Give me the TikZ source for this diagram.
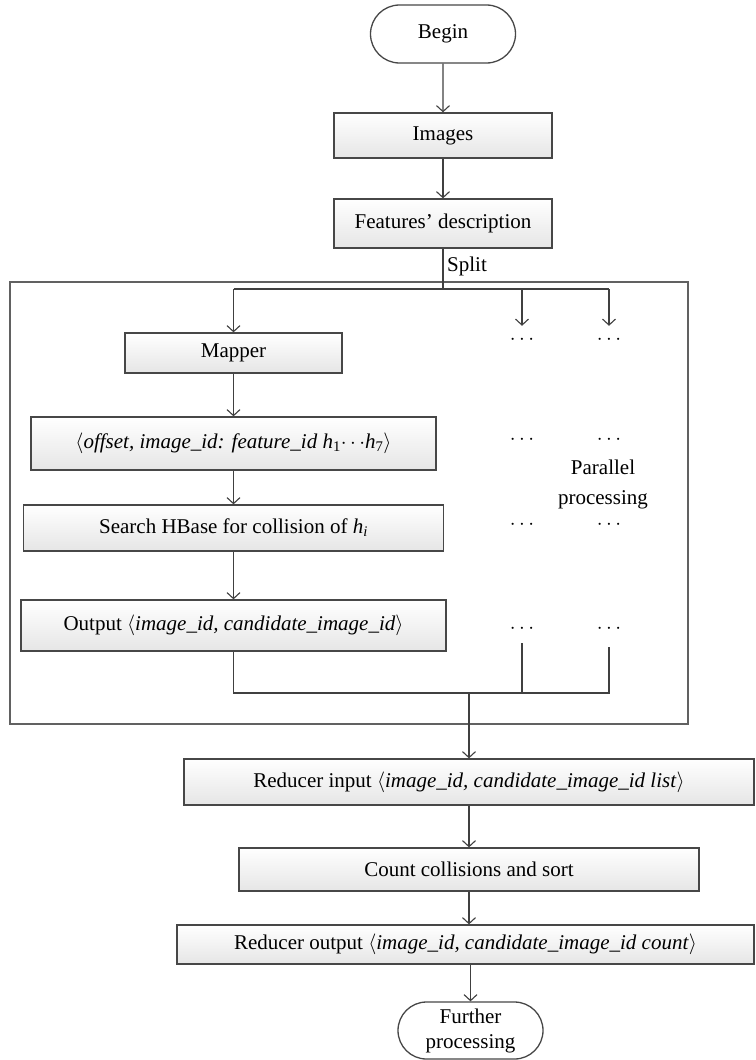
\documentclass[tikz,border=0pt]{standalone}
\usepackage{fontspec}
\setmainfont{Liberation Serif}
\usetikzlibrary{arrows.meta,shapes.misc}
\begin{document}
\begin{tikzpicture}[x=1pt,y=-1pt,
  every node/.style={font=\fontsize{21}{25}\selectfont, inner sep=0pt},
  procbox/.style={draw=black!72, line width=1.3pt, top color=white, bottom color=black!10, align=center},
  terminal/.style={rounded rectangle, draw=black!72, line width=1.3pt, fill=white, align=center},
  frame/.style={draw=black!62, line width=1.4pt},
  dotsnode/.style={minimum height=12pt, minimum width=24pt},
  link/.style={draw=black!75, line width=1.4pt},
  arr/.style={link, -{Straight Barb[length=6pt,width=13pt,line width=1.1pt]}}
]
\useasboundingbox (0,0) rectangle (755,1060);

% start and preprocessing
\node[terminal, minimum width=145pt, minimum height=58pt] (begin) at (443,34) {Begin};
\node[procbox, minimum width=218pt, minimum height=45pt] (images) at (443,135.5) {Images};
\node[procbox, minimum width=218pt, minimum height=49pt] (feat) at (443,223.5) {Features' description};

% map phase frame
\node[frame, minimum width=678pt, minimum height=442pt] (mapframe) at (349,503) {};
\node[anchor=west] (split) at (447,266) {Split};

% mapper column
\node[procbox, minimum width=217pt, minimum height=40pt] (mapper) at (233.5,353) {Mapper};
\node[procbox, minimum width=405pt, minimum height=53pt] (offset) at (233.5,443.5)
  {$\langle$\textit{offset, image\_id: feature\_id} \textit{h}\textsubscript{1}$\cdots$\textit{h}\textsubscript{7}$\rangle$};
\node[procbox, minimum width=420pt, minimum height=46pt] (search) at (233.5,528)
  {Search HBase for collision of \textit{h}\textsubscript{\textit{i}}};
\node[procbox, minimum width=425pt, minimum height=51pt] (output) at (233.5,625.5)
  {Output $\langle$\textit{image\_id, candidate\_image\_id}$\rangle$};

% parallel mappers
\node[dotsnode] (dA1) at (522,340) {$\cdots$};
\node[dotsnode] (dB1) at (609,340) {$\cdots$};
\node[dotsnode] (dA2) at (522,440) {$\cdots$};
\node[dotsnode] (dB2) at (609,440) {$\cdots$};
\node[dotsnode] (dA3) at (522,525) {$\cdots$};
\node[dotsnode] (dB3) at (609,525) {$\cdots$};
\node[dotsnode] (dA4) at (522,629) {$\cdots$};
\node[dotsnode] (dB4) at (609,629) {$\cdots$};
\node[align=center, font=\fontsize{21}{30}\selectfont] (par) at (603,484) {Parallel\\processing};

% reduce phase
\node[procbox, minimum width=570pt, minimum height=46pt] (rin) at (469,782)
  {Reducer input $\langle$\textit{image\_id, candidate\_image\_id list}$\rangle$};
\node[procbox, minimum width=460pt, minimum height=43pt] (count) at (469,869.5) {Count collisions and sort};
\node[procbox, minimum width=577pt, minimum height=39pt] (rout) at (465.5,944.5)
  {Reducer output $\langle$\textit{image\_id, candidate\_image\_id count}$\rangle$};
\node[terminal, minimum width=145pt, minimum height=57pt] (further) at (470.5,1030.5) {Further\\processing};

% split fan-out
\coordinate (fork) at (443,289);
\coordinate (merge) at (469,693);

\draw[arr] (begin) -- (images);
\draw[arr] (images) -- (feat);
\draw[link] (feat.south) -- (fork);
\draw[link] (mapper.north |- fork) -- (dB1.north |- fork);
\draw[arr] (mapper.north |- fork) -- (mapper.north);
\draw[arr, shorten >=8pt] (dA1.north |- fork) -- (dA1.north);
\draw[arr, shorten >=8pt] (dB1.north |- fork) -- (dB1.north);

\draw[arr] (mapper) -- (offset);
\draw[arr] (offset) -- (search);
\draw[arr] (search) -- (output);

% gather mapper outputs
\draw[link] (output.south) -- (output.south |- merge) -- (dB4.south |- merge) -- ([yshift=-12pt]dB4.south);
\draw[link] ([yshift=-8pt]dA4.south) -- (dA4.south |- merge);
\draw[arr] (merge) -- (rin.north);

\draw[arr] (rin) -- (count);
\draw[arr] (count.south) -- (count.south |- rout.north);
\draw[arr] (rout.south -| further.north) -- (further.north);
\end{tikzpicture}
\end{document}
